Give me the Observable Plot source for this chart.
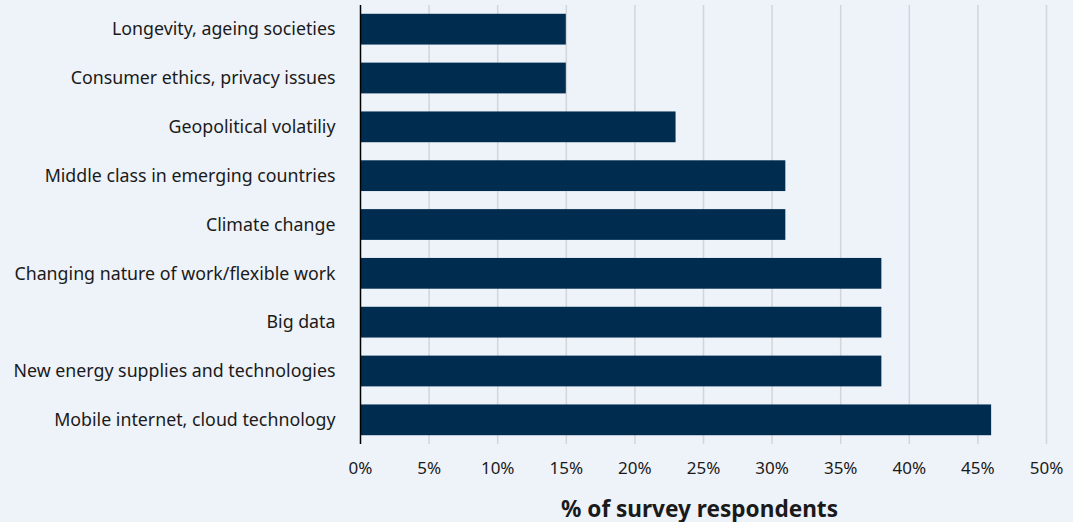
<!DOCTYPE html>
<html>
<head>
<meta charset="utf-8">
<script src="https://cdn.jsdelivr.net/npm/d3@7"></script>
<script src="https://cdn.jsdelivr.net/npm/@observablehq/plot@0.6"></script>
<style>
  html, body { margin: 0; padding: 0; background: #eef2f9; }
  #chart { width: 1073px; height: 522px; }
</style>
</head>
<body>
<div id="chart"></div>
<script>
const categories = [
  "Longevity, ageing societies",
  "Consumer ethics, privacy issues",
  "Geopolitical volatiliy",
  "Middle class in emerging countries",
  "Climate change",
  "Changing nature of work/flexible work",
  "Big data",
  "New energy supplies and technologies",
  "Mobile internet, cloud technology"
];
const values = [15, 15, 23, 31, 31, 38, 38, 38, 46];
const xTicks = [0, 5, 10, 15, 20, 25, 30, 35, 40, 45, 50];

const data = categories.map((c, i) => ({category: c, value: values[i]}));

const chart = Plot.plot({
  width: 1073,
  height: 522,
  marginLeft: 360,
  marginRight: 27,
  marginTop: 5,
  marginBottom: 78,
  style: {
    background: "#eef2f9",
    fontFamily: "'Noto Sans', sans-serif",
    fontSize: "17px",
    color: "#1a1a1a"
  },
  x: {domain: [0, 50], ticks: xTicks, tickFormat: d => d + "%", grid: false, label: null},
  y: {domain: categories, paddingInner: 0.37, paddingOuter: 0.18, round: false, label: null},
  marks: [
    Plot.ruleX(xTicks.filter(d => d > 0), {stroke: "#d3d5d9", strokeWidth: 1.5, strokeOpacity: 1}),
    Plot.barX(data, {x: "value", y: "category", fill: "#002d4f"}),
    Plot.ruleX([0], {stroke: "#000", strokeWidth: 1.5}),
    Plot.axisX({ticks: xTicks, tickFormat: d => d + "%", tickSize: 0, tickPadding: 17, fontSize: 17, label: null}),
    Plot.axisY({tickSize: 0, tickPadding: 25, fontSize: 17.8, label: null}),
    Plot.text(["% of survey respondents"], {
      frameAnchor: "bottom", dx: -4, dy: 72, fontSize: 22.6, fontWeight: "bold", fill: "#1a1a1a"
    })
  ]
});
document.getElementById("chart").appendChild(chart);
</script>
</body>
</html>
